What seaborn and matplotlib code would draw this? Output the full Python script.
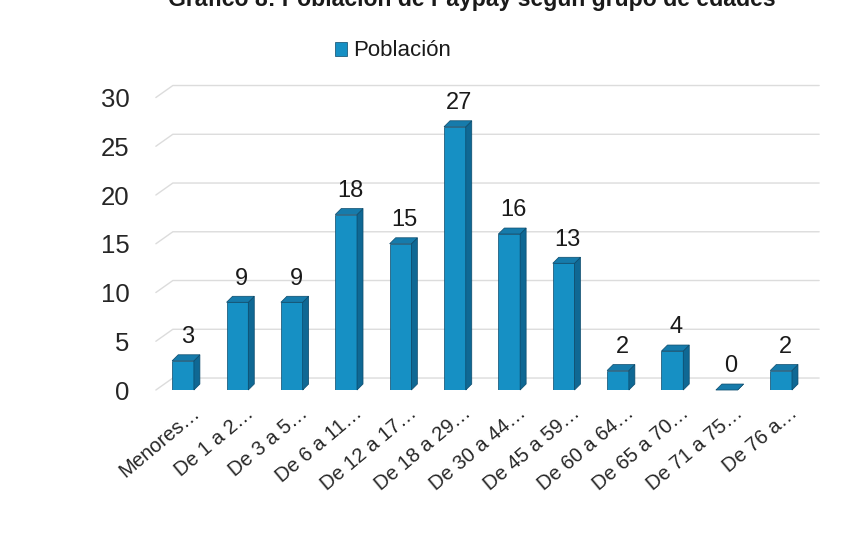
import matplotlib
matplotlib.use("Agg")
import matplotlib.pyplot as plt
import seaborn as sns
import pandas as pd
from matplotlib import font_manager
from matplotlib.patches import Polygon
from matplotlib.transforms import ScaledTranslation

# Datos
titulo = "Gráfico 8: Población de Paypay según grupo de edades"
serie = "Población"
grupos = ["Menores…", "De 1 a 2…", "De 3 a 5…", "De 6 a 11…", "De 12 a 17…",
          "De 18 a 29…", "De 30 a 44…", "De 45 a 59…", "De 60 a 64…",
          "De 65 a 70…", "De 71 a 75…", "De 76 a…"]
poblacion = [3, 9, 9, 18, 15, 27, 16, 13, 2, 4, 0, 2]
marcas_y = [0, 5, 10, 15, 20, 25, 30]

df = pd.DataFrame({"grupo": grupos, "poblacion": poblacion})

sns.set_theme(style="white")
instaladas = {f.name for f in font_manager.fontManager.ttflist}
narrow = "Liberation Sans Narrow" in instaladas
fuente = "Liberation Sans Narrow" if narrow else "Liberation Sans"
plt.rcParams["font.family"] = [fuente, "DejaVu Sans"]
plt.rcParams["text.color"] = "#1a1a1a"

c_frente = "#1690c4"
c_lado = "#0f6894"
c_tapa = "#167bab"
c_borde = "#0b4a6b"

fig = plt.figure(figsize=(8.47, 5.37), dpi=100)
ax = fig.add_axes([0.184, 0.2737, 0.7703, 0.5447])

sns.barplot(data=df, x="grupo", y="poblacion", color=c_frente, saturation=1,
            width=0.4, edgecolor=c_borde, linewidth=0.5, label=serie, ax=ax,
            zorder=3)
ax.set_xlim(-0.5, len(grupos) - 0.5)
ax.set_ylim(0, 30)
ax.set_yticks(marcas_y)
ax.set_xlabel("")
ax.set_ylabel("")
sns.despine(ax=ax, left=True, bottom=True)

# profundidad 3D en píxeles convertida a unidades de datos
p0 = ax.transData.transform((0, 0))
p1 = ax.transData.transform((1, 1))
dx = 6 / (p1[0] - p0[0])
dy = 6 / (p1[1] - p0[1])

# paredes del fondo: líneas de rejilla desplazadas hacia atrás
gx = 17 / (p1[0] - p0[0])
gy = 12 / (p1[1] - p0[1])
for v in marcas_y:
    ax.plot([-0.5, -0.5 + gx, len(grupos) - 0.5 + 0.2], [v, v + gy, v + gy],
            color="#dcdcdc", lw=1, zorder=1, clip_on=False)

for barra in ax.patches:
    x0 = barra.get_x()
    x1 = x0 + barra.get_width()
    h = barra.get_height()
    lado = Polygon([(x1, 0), (x1 + dx, dy), (x1 + dx, h + dy), (x1, h)],
                   closed=True, facecolor=c_lado, edgecolor=c_borde, lw=0.5,
                   zorder=3, clip_on=False)
    tapa = Polygon([(x0, h), (x1, h), (x1 + dx, h + dy), (x0 + dx, h + dy)],
                   closed=True, facecolor=c_tapa, edgecolor=c_borde, lw=0.5,
                   zorder=3, clip_on=False)
    ax.add_patch(lado)
    ax.add_patch(tapa)

for i, v in enumerate(poblacion):
    ax.annotate(str(v), xy=(i, v), xytext=(3, 17), textcoords="offset points",
                ha="center", va="center", fontsize=17, annotation_clip=False)

ax.tick_params(axis="y", length=0, pad=19, labelsize=18.5)
ax.tick_params(axis="x", length=0, pad=15, labelsize=16 if narrow else 14.5)
desplaza = ScaledTranslation(10 / 72, 0, fig.dpi_scale_trans)
for et in ax.get_xticklabels():
    et.set_rotation(40)
    et.set_ha("right")
    et.set_va("center")
    et.set_rotation_mode("anchor")
    et.set_transform(et.get_transform() + desplaza)

ley = ax.legend(loc="center left", bbox_to_anchor=(335 / 847, 1 - 51 / 537),
                bbox_transform=fig.transFigure, frameon=False, fontsize=16,
                handlelength=0.55, handleheight=0.6, handletextpad=0.25,
                borderpad=0, borderaxespad=0)

fig.text(0.557, 1 - 6 / 537, titulo, ha="center", va="baseline", fontsize=16.6,
         fontweight="bold", family=["Liberation Sans", "DejaVu Sans"])

fig.savefig("out.png", dpi=100, facecolor="white")
